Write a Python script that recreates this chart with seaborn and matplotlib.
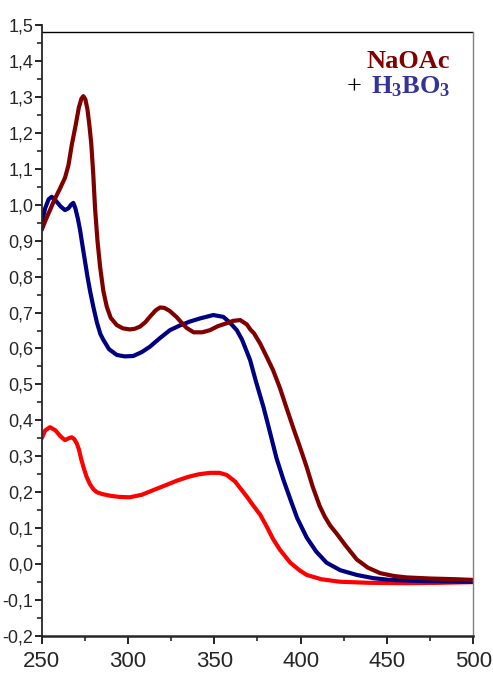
import numpy as np
import pandas as pd
import seaborn as sns
import matplotlib.pyplot as plt
from matplotlib.ticker import MultipleLocator

# wavelength (nm) / absorbance
nm_naoac = [250, 252.5, 254.8, 257.5, 260.6, 263.5, 265.5, 267.4, 269.7, 271.5, 273, 274.1,
            275.3, 276.5, 277.6, 278.7, 279.8, 280.9, 282.3, 283.8, 285.7, 287.7, 290, 293.5,
            297, 301, 304, 307, 310, 313, 316, 318.5, 321, 324, 328, 331, 334, 338, 343,
            347.5, 352, 357, 361, 365, 368.8, 371, 373, 376.5, 380, 384, 388, 392, 396, 400,
            403.5, 407, 411, 414, 417, 421, 426, 432.5, 439, 446, 454, 461.5, 475, 490, 500]
a_naoac = [0.93, 0.96, 0.985, 1.015, 1.045, 1.075, 1.11, 1.166, 1.222, 1.27, 1.295, 1.302,
           1.293, 1.265, 1.222, 1.17, 1.09, 0.99, 0.9, 0.828, 0.76, 0.716, 0.685, 0.665,
           0.656, 0.653, 0.655, 0.661, 0.673, 0.69, 0.706, 0.714, 0.713, 0.705, 0.688, 0.672, 0.657, 0.645, 0.645,
           0.651, 0.662, 0.670, 0.677, 0.679, 0.667, 0.652, 0.642, 0.614, 0.58, 0.54, 0.49, 0.432, 0.375, 0.32,
           0.27, 0.215, 0.162, 0.132, 0.108, 0.084, 0.052, 0.013, -0.01, -0.025, -0.033, -0.037, -0.04, -0.042, -0.044]

nm_boric = [250, 252, 254, 255.8, 258, 261, 263.5, 265.5, 267, 268.3, 269.5, 271, 272.2, 273.5,
            275, 276.5, 278, 279.9, 282, 284, 285.7, 289, 293.5, 298, 303, 308, 312.7, 318,
            324.3, 330, 335.9, 342, 349.4, 355.2, 359, 363, 366, 370.7, 374, 378.4, 381, 386,
            390, 393.9, 398, 403.5, 409, 415, 423, 432.5, 442, 451.8, 470, 500]
a_boric = [0.949, 0.99, 1.015, 1.022, 1.012, 0.995, 0.985, 0.99, 1.0, 1.005, 0.99, 0.96, 0.93, 0.89,
           0.845, 0.8, 0.76, 0.716, 0.672, 0.64, 0.624, 0.598, 0.582, 0.578, 0.579, 0.59, 0.605, 0.627,
           0.651, 0.664, 0.675, 0.684, 0.693, 0.688, 0.672, 0.651, 0.625, 0.568, 0.51, 0.438, 0.39, 0.295,
           0.235, 0.182, 0.128, 0.074, 0.035, 0.004, -0.017, -0.030, -0.039, -0.044, -0.047, -0.049]

nm_ref = [250, 252, 254.8, 258, 261, 263.5, 265.5, 267.4, 268.8, 270.3, 271.5, 273, 274.5, 276,
          278, 280, 282, 285, 290, 295, 301, 308, 314.7, 321, 328.2, 335, 341, 347.5, 353,
          357.2, 362, 368.8, 373, 376.5, 380.4, 384, 388, 394, 399.6, 403.5, 412, 422.8, 440,
          461.5, 480, 500]
a_ref = [0.35, 0.372, 0.381, 0.372, 0.355, 0.345, 0.35, 0.353, 0.348, 0.336, 0.32, 0.29, 0.265, 0.243,
         0.222, 0.208, 0.2, 0.195, 0.19, 0.187, 0.186, 0.193, 0.206, 0.218, 0.232, 0.243, 0.25, 0.254, 0.254,
         0.248, 0.23, 0.188, 0.16, 0.138, 0.104, 0.07, 0.04, 0.004, -0.018, -0.030, -0.042, -0.049, -0.052,
         -0.053, -0.052, -0.05]

colors = {"NaOAc": "#800000", "H3BO3": "#000080", "ref": "#ff0000"}

df = pd.concat([
    pd.DataFrame({"nm": nm_ref, "A": a_ref, "s": "ref"}),
    pd.DataFrame({"nm": nm_boric, "A": a_boric, "s": "H3BO3"}),
    pd.DataFrame({"nm": nm_naoac, "A": a_naoac, "s": "NaOAc"}),
])

sns.set_style("ticks")
plt.rcParams["font.family"] = ["Liberation Sans", "DejaVu Sans"]
plt.rcParams["mathtext.fontset"] = "custom"
plt.rcParams["mathtext.bf"] = "Liberation Serif:bold"
plt.rcParams["mathtext.rm"] = "Liberation Serif:bold"
plt.rcParams["mathtext.default"] = "bf"

fig = plt.figure(figsize=(4.93, 6.79), dpi=100)
ax = fig.add_axes([0.0846, 0.0633, 0.8754, 0.8999])

sns.lineplot(data=df, x="nm", y="A", hue="s", palette=colors, sort=False,
             linewidth=3, legend=False, ax=ax)

ax.set_xlim(250, 500)
ax.set_ylim(-0.2, 1.5)
ax.set_xlabel("")
ax.set_ylabel("")

xt = [250, 300, 350, 400, 450, 500]
ax.set_xticks(xt)
ax.set_xticklabels([str(v) for v in xt], fontsize=16)
ax.xaxis.set_minor_locator(MultipleLocator(25))

yt = np.round(np.arange(-0.2, 1.51, 0.1), 1)
ax.set_yticks(yt)
ax.set_yticklabels([f"{v:.1f}".replace(".", ",") for v in yt], fontsize=13)
ax.yaxis.set_minor_locator(MultipleLocator(0.05))

ax.tick_params(axis="both", which="major", direction="out", width=1.2, color="black")
ax.tick_params(axis="x", which="major", length=6, pad=5)
ax.tick_params(axis="y", which="major", length=5, pad=1)
ax.tick_params(axis="both", which="minor", direction="out", width=1.2, length=3.5)

ax.spines["top"].set_visible(False)
ax.spines["left"].set_linewidth(1.3)
ax.spines["bottom"].set_linewidth(1.8)
ax.spines["right"].set_color("#808080")
ax.spines["right"].set_linewidth(1)
ax.spines["right"].set_bounds(-0.2, 1.48)
ax.axhline(1.48, color="black", linewidth=1)

fig.text(0.744, 0.90, "NaOAc", color="#800000", fontsize=19, fontweight="bold",
         family="Liberation Serif")
fig.text(0.703, 0.863, "+", color="black", fontsize=19, family="Liberation Serif")
fig.text(0.753, 0.863, r"H$_{3}$BO$_{3}$", color="#333399", fontsize=19, fontweight="bold",
         family="Liberation Serif")

fig.savefig("out.png", dpi=100)
